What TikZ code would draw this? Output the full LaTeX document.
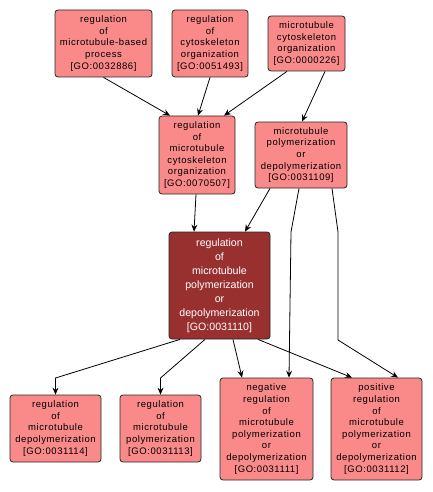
\documentclass[tikz,border=0pt]{standalone}
\usepackage{fontspec}
\setmainfont{Liberation Sans}
\newfontfamily\spacedfont[LetterSpace=6]{Liberation Sans}
\usetikzlibrary{arrows.meta,calc}
\definecolor{gopink}{RGB}{250,138,138}
\definecolor{gored}{RGB}{153,48,48}
\begin{document}
\begin{tikzpicture}[x=1pt,y=-1pt,
  gobox/.style={draw=black!85,line width=0.8pt,rounded corners=3pt,fill=gopink,
    align=center,inner sep=0pt,font=\spacedfont\fontsize{9.5}{11.6}\selectfont},
  mainbox/.style={draw=black!85,line width=0.8pt,rounded corners=3pt,fill=gored,
    text=white,align=center,inner sep=0pt,font=\fontsize{10.6}{14}\selectfont},
  conn/.style={draw=black,line width=0.8pt,-{Stealth[length=7pt,width=6pt,inset=2.5pt]}}]
\useasboundingbox (0,0) rectangle (433,492);
\fill[white] (0,0) rectangle (433,492);
\node[gobox,minimum width=97pt,minimum height=67pt] (A) at (103.5,43.5) {regulation\\of\\microtubule-based\\process\\{[GO:0032886]}};
\node[gobox,minimum width=76pt,minimum height=67pt] (B) at (210,43.5) {regulation\\of\\cytoskeleton\\organization\\{[GO:0051493]}};
\node[gobox,minimum width=77pt,minimum height=55pt] (C) at (306.5,43.5) {microtubule\\cytoskeleton\\organization\\{[GO:0000226]}};
\node[gobox,minimum width=76pt,minimum height=78pt] (D) at (197,155) {regulation\\of\\microtubule\\cytoskeleton\\organization\\{[GO:0070507]}};
\node[gobox,minimum width=92pt,minimum height=66pt] (E) at (301,155) {microtubule\\polymerization\\or\\depolymerization\\{[GO:0031109]}};
\node[mainbox,minimum width=101pt,minimum height=107pt] (F) at (219.5,285.5) {regulation\\of\\microtubule\\polymerization\\or\\depolymerization\\{[GO:0031110]}};
\node[gobox,minimum width=91pt,minimum height=67pt] (G) at (55.5,428.5) {regulation\\of\\microtubule\\depolymerization\\{[GO:0031114]}};
\node[gobox,minimum width=81pt,minimum height=67pt] (H) at (160.5,428.5) {regulation\\of\\microtubule\\polymerization\\{[GO:0031113]}};
\node[gobox,minimum width=93pt,minimum height=102pt] (I) at (266.5,429) {negative\\regulation\\of\\microtubule\\polymerization\\or\\depolymerization\\{[GO:0031111]}};
\node[gobox,minimum width=91pt,minimum height=102pt] (J) at (376.5,429) {positive\\regulation\\of\\microtubule\\polymerization\\or\\depolymerization\\{[GO:0031112]}};
\draw[conn] (A.south) -- ([xshift=-27pt]D.north);
\draw[conn] (B.south) -- ([xshift=1pt]D.north);
\draw[conn] ([xshift=-19.5pt]C.south) -- ([xshift=27pt]D.north);
\draw[conn] ([xshift=18.5pt]C.south) -- ([xshift=1pt]E.north);
\draw[conn] ([xshift=-1pt]D.south) -- ([xshift=-25.5pt]F.north);
\draw[conn] ([xshift=-31pt]E.south) -- ([xshift=25.5pt]F.north);
\draw[conn] ([xshift=-2pt]E.south) -- (291,232) -- ([xshift=22.5pt]I.north);
\draw[conn] ([xshift=31pt]E.south) -- (338,232) -- (338,340) -- ([xshift=21.5pt]J.north);
\draw[conn] ([xshift=-39.5pt]F.south) -- (55.5,378) -- (G.north);
\draw[conn] ([xshift=-14.5pt]F.south) -- (160.5,378) -- (H.north);
\draw[conn] ([xshift=13.5pt]F.south) -- ([xshift=-24.5pt]I.north);
\draw[conn] ([xshift=38.5pt]F.south) -- ([xshift=-24.5pt]J.north);
\end{tikzpicture}
\end{document}
